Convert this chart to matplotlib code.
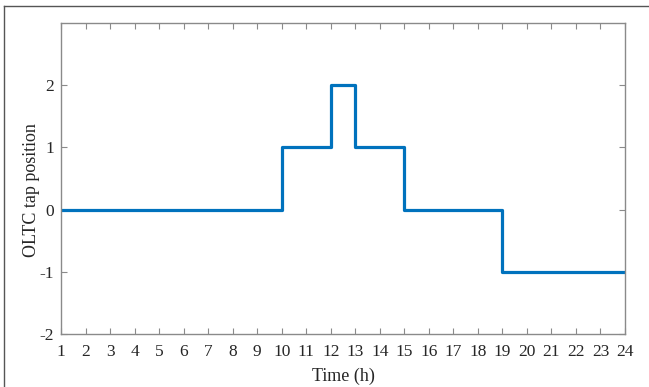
import matplotlib
matplotlib.use("Agg")
import matplotlib.pyplot as plt
from matplotlib.lines import Line2D

hours = list(range(1, 25))
tap = [0, 0, 0, 0, 0, 0, 0, 0, 0, 1, 1, 2, 1, 1, 0, 0, 0, 0, -1, -1, -1, -1, -1, -1]
xticks = list(range(1, 25))
yticks = [-2, -1, 0, 1, 2]

plt.rcParams['font.family'] = ['Liberation Serif', 'DejaVu Serif']
plt.rcParams['axes.unicode_minus'] = False
fig = plt.figure(figsize=(6.49, 3.87), dpi=100)
ax = fig.add_axes([61/649, 1-334/387, (625-61)/649, (334-23)/387])
ax.step(hours, tap, where='post', color='#0072BD', linewidth=2.3)
ax.set_xlim(1, 24)
ax.set_ylim(-2, 3)
ax.set_xticks(xticks)
ax.set_yticks(yticks)
spine_c = '#8a8a8a'
for s in ax.spines.values():
    s.set_color(spine_c)
    s.set_linewidth(1.0)
ax.tick_params(direction='in', top=True, right=True, length=4, width=0.8,
               color=spine_c, labelcolor='#262626', labelsize=12.5)
ax.tick_params(axis='x', pad=7)
ax.tick_params(axis='y', pad=5)
ax.set_xlabel('Time (h)', fontsize=13, color='#262626', labelpad=6)
ax.set_ylabel('OLTC tap position', fontsize=13, color='#262626', labelpad=0)
ax.yaxis.label.set_y(0.463)

# outer frame (left and top edges of screenshot)
fig.add_artist(Line2D([4/649, 4/649], [0, 1-6/387], transform=fig.transFigure, color='#555555', lw=1.0))
fig.add_artist(Line2D([4/649, 1], [1-6/387, 1-6/387], transform=fig.transFigure, color='#555555', lw=1.0))

fig.savefig('out.png', dpi=100)
